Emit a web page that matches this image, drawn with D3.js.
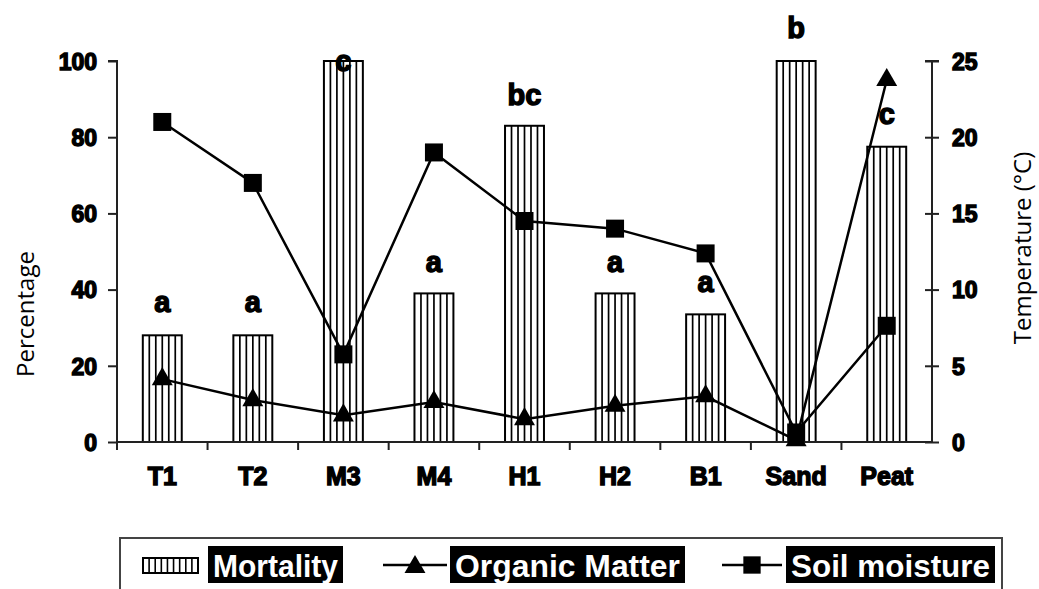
<!DOCTYPE html>
<html>
<head>
<meta charset="utf-8">
<script src="https://cdn.jsdelivr.net/npm/d3@7"></script>
<style>
  body { margin: 0; background: #fff; }
  svg { display: block; }
  .bold { font-family: "Liberation Sans", Arial, sans-serif; font-weight: bold; fill: #000; stroke: #000; stroke-width: 1.4px; }
  .title { font-family: "Open Sans", sans-serif; fill: #000; }
</style>
</head>
<body>
<div id="chart"></div>
<script>
// data
var categories = ["T1", "T2", "M3", "M4", "H1", "H2", "B1", "Sand", "Peat"];
var mortality = [28, 28, 100, 39, 83, 39, 33.5, 100, 77.5];
var organicMatter = [16.5, 11, 7, 10.5, 6, 9.5, 12, 0.5, 95];
var soilMoisture = [84, 68, 23, 76, 58, 56, 49.5, 2.5, 30.5];
var letters = ["a", "a", "c", "a", "bc", "a", "a", "b", "c"];
var letterAt = [34, 34, 97.5, 44.5, 88.5, 44.5, 39.5, 106, 83.5];
var leftTicks = [0, 20, 40, 60, 80, 100];
var rightTicks = [0, 5, 10, 15, 20, 25];

var W = 1039, H = 589;
var margin = {t: 61, r: 107, b: 147, l: 117};

var svg = d3.select('#chart').append('svg')
    .attr('width', W)
    .attr('height', H);

var x = d3.scaleBand().domain(categories).range([margin.l, W - margin.r]);
var y = d3.scaleLinear().domain([0, 100]).range([H - margin.b, margin.t]);
var yR = d3.scaleLinear().domain([0, 25]).range([H - margin.b, margin.t]);
var barW = x.bandwidth() * 0.43;

/* bars with vertical stripes */
var bars = svg.selectAll('.bar')
    .data(categories)
    .enter()
    .append('g')
    .attr('class', 'bar');

bars.each(function(c, i) {
    var g = d3.select(this);
    var x0 = x(c) + (x.bandwidth() - barW) / 2;
    var y0 = y(mortality[i]), y1 = y(0);
    g.append('rect')
        .attr('x', x0).attr('y', y0)
        .attr('width', barW).attr('height', y1 - y0)
        .style('fill', '#fff').style('stroke', '#000').style('stroke-width', 2);
    d3.range(1, 6).forEach(function(k) {
        var lx = x0 + k * barW / 6;
        g.append('line')
            .attr('x1', lx).attr('x2', lx)
            .attr('y1', y0).attr('y2', y1)
            .style('stroke', '#000').style('stroke-width', 1.7);
    });
});

/* axes */
var axisColor = '#222';
var gl = svg.append('g')
    .attr('transform', 'translate(' + margin.l + ',0)')
    .call(d3.axisLeft(y).tickValues(leftTicks).tickSize(9).tickPadding(11));
var gr = svg.append('g')
    .attr('transform', 'translate(' + (W - margin.r) + ',0)')
    .call(d3.axisRight(yR).tickValues(rightTicks).tickSize(7).tickPadding(13));
gr.selectAll('.tick line').attr('x1', -7);

[gl, gr].forEach(function(g) {
    g.selectAll('.tick line').style('stroke', axisColor).style('stroke-width', 2);
    g.selectAll('.tick text')
        .attr('class', 'bold')
        .style('font-size', '23px')
        .attr('dy', '0.36em');
});
gl.select('.domain').attr('d', 'M-9,' + y(100) + 'H0V' + y(0))
    .style('stroke', axisColor).style('stroke-width', 2);
gr.select('.domain').attr('d', 'M-7,' + y(100) + 'H7M0,' + y(100) + 'V' + y(0))
    .style('stroke', axisColor).style('stroke-width', 2);

// x axis line and boundary ticks
svg.append('line')
    .attr('x1', margin.l).attr('x2', W - margin.r)
    .attr('y1', y(0)).attr('y2', y(0))
    .style('stroke', axisColor).style('stroke-width', 2);
svg.selectAll('.xtick')
    .data(categories)
    .enter()
    .append('line')
    .attr('class', 'xtick')
    .attr('x1', function(d) { return x(d); })
    .attr('x2', function(d) { return x(d); })
    .attr('y1', y(0)).attr('y2', y(0) + 8)
    .style('stroke', axisColor).style('stroke-width', 2);

svg.selectAll('.xlabel')
    .data(categories)
    .enter()
    .append('text')
    .attr('class', 'bold')
    .attr('x', function(d) { return x(d) + x.bandwidth() / 2; })
    .attr('y', 485)
    .attr('text-anchor', 'middle')
    .style('font-size', '25px')
    .text(function(d) { return d; });

/* lines */
var cx = function(i) { return x(categories[i]) + x.bandwidth() / 2; };
var line = d3.line()
    .x(function(d, i) { return cx(i); })
    .y(function(d) { return y(d); });

[organicMatter, soilMoisture].forEach(function(series) {
    svg.append('path')
        .datum(series)
        .attr('d', line)
        .style('fill', 'none')
        .style('stroke', '#000')
        .style('stroke-width', 2.5);
});

svg.selectAll('.tri')
    .data(organicMatter)
    .enter()
    .append('path')
    .attr('class', 'tri')
    .attr('transform', function(d, i) { return 'translate(' + cx(i) + ',' + y(d) + ')'; })
    .attr('d', d3.symbol().type(d3.symbolTriangle).size(190))
    .style('fill', '#000');

svg.selectAll('.sq')
    .data(soilMoisture)
    .enter()
    .append('path')
    .attr('class', 'sq')
    .attr('transform', function(d, i) { return 'translate(' + cx(i) + ',' + y(d) + ')'; })
    .attr('d', d3.symbol().type(d3.symbolSquare).size(324))
    .style('fill', '#000');

/* significance letters */
svg.selectAll('.letter')
    .data(letters)
    .enter()
    .append('text')
    .attr('class', 'bold')
    .attr('x', function(d, i) { return cx(i); })
    .attr('y', function(d, i) { return y(letterAt[i]); })
    .attr('text-anchor', 'middle')
    .style('font-size', '29px')
    .text(function(d) { return d; });

/* axis titles */
svg.append('text')
    .attr('class', 'title')
    .attr('transform', 'translate(34,314) rotate(-90)')
    .attr('text-anchor', 'middle')
    .style('font-size', '24px')
    .text('Percentage');
svg.append('text')
    .attr('class', 'title')
    .attr('transform', 'translate(1031,248) rotate(-90)')
    .attr('text-anchor', 'middle')
    .style('font-size', '24px')
    .text('Temperature (°C)');

/* legend */
var legend = svg.append('g');
legend.append('rect')
    .attr('x', 120).attr('y', 538)
    .attr('width', 882).attr('height', 70)
    .style('fill', 'none').style('stroke', '#444').style('stroke-width', 2);

var ly = 565;
// mortality swatch
legend.append('rect')
    .attr('x', 143).attr('y', 558).attr('width', 55).attr('height', 15)
    .style('fill', '#fff').style('stroke', '#000').style('stroke-width', 2);
d3.range(1, 9).forEach(function(k) {
    var lx = 143 + k * 55 / 9;
    legend.append('line')
        .attr('x1', lx).attr('x2', lx).attr('y1', 558).attr('y2', 573)
        .style('stroke', '#000').style('stroke-width', 1.6);
});
legend.append('line')
    .attr('x1', 383).attr('x2', 447).attr('y1', ly).attr('y2', ly)
    .style('stroke', '#000').style('stroke-width', 2.5);
legend.append('path')
    .attr('transform', 'translate(415,' + (ly + 2) + ')')
    .attr('d', d3.symbol().type(d3.symbolTriangle).size(190));
legend.append('line')
    .attr('x1', 722).attr('x2', 782).attr('y1', ly).attr('y2', ly)
    .style('stroke', '#000').style('stroke-width', 2.5);
legend.append('path')
    .attr('transform', 'translate(752,' + ly + ')')
    .attr('d', d3.symbol().type(d3.symbolSquare).size(300));

var legendItems = [
    {label: 'Mortality', x: 208, w: 135},
    {label: 'Organic Matter', x: 450, w: 235},
    {label: 'Soil moisture', x: 786, w: 209}
];
legendItems.forEach(function(d) {
    legend.append('rect')
        .attr('x', d.x).attr('y', 546).attr('width', d.w).attr('height', 37)
        .style('fill', '#000');
    legend.append('text')
        .attr('x', d.x + d.w / 2).attr('y', 577)
        .attr('text-anchor', 'middle')
        .attr('textLength', d.w - 10)
        .attr('lengthAdjust', 'spacingAndGlyphs')
        .style('font-family', '"Liberation Sans", Arial, sans-serif')
        .style('font-weight', 'bold')
        .style('font-size', '31px')
        .style('fill', '#fff')
        .text(d.label);
});
</script>
</body>
</html>
